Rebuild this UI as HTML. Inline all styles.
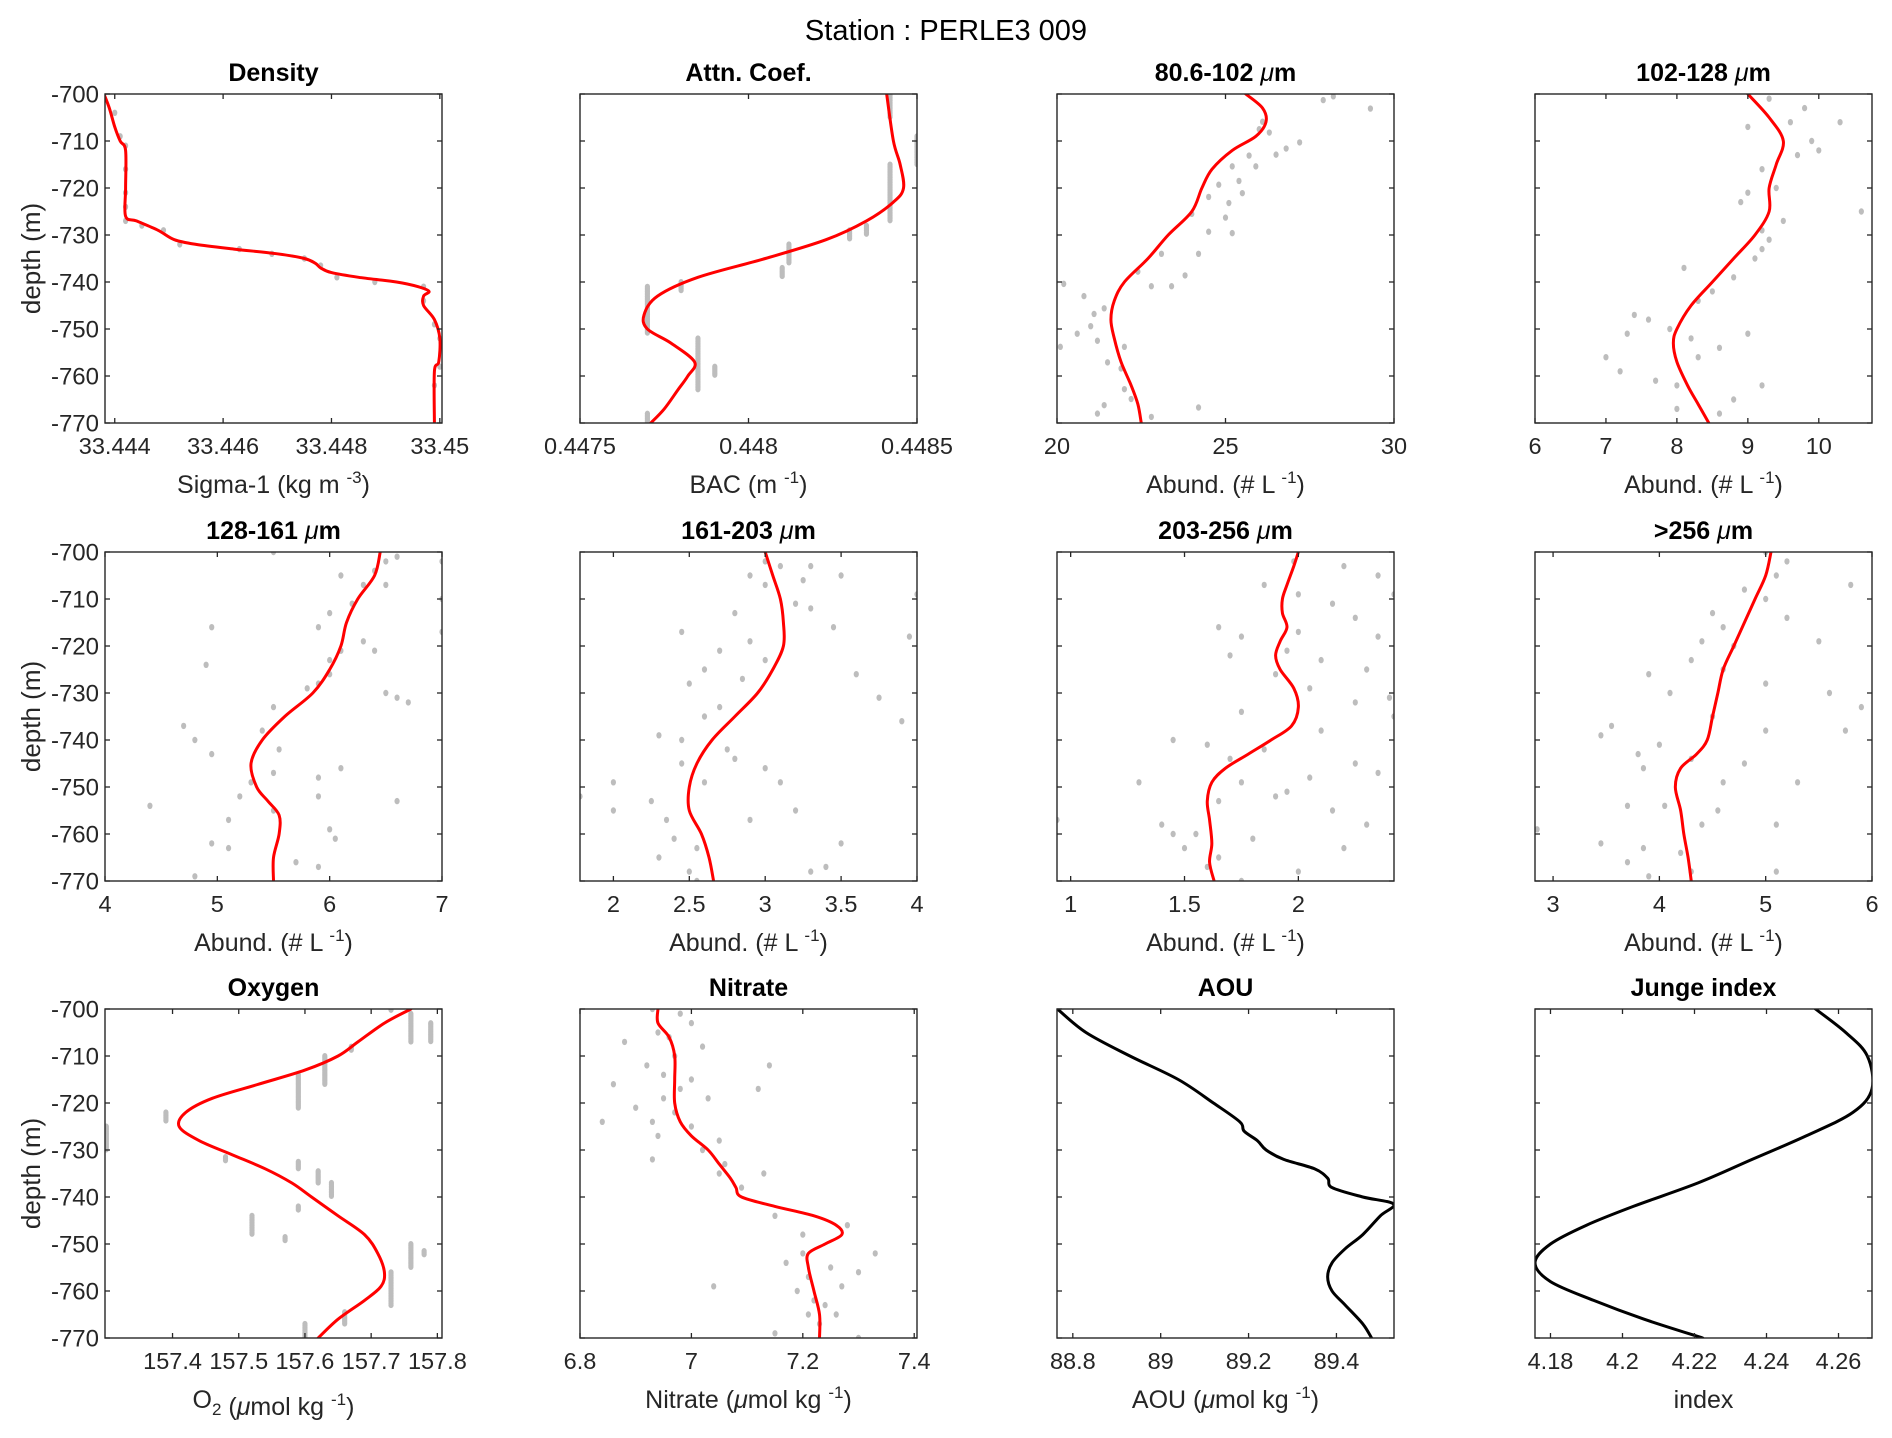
<!DOCTYPE html>
<html><head><meta charset="utf-8"><title>Station : PERLE3 009</title>
<style>
html,body{margin:0;padding:0;background:#fff;}
svg{display:block;font-family:"Liberation Sans",Arial,sans-serif;}
</style></head>
<body>
<svg id="fig" width="1892" height="1438" viewBox="0 0 1892 1438" xmlns="http://www.w3.org/2000/svg">
<rect x="0" y="0" width="1892" height="1438" fill="#fff"/>
<text x="946" y="40" text-anchor="middle" font-size="29" fill="#000">Station : PERLE3 009</text>
</svg>
<script>
// ---------- DATA ----------
const depthTicks = [-700,-710,-720,-730,-740,-750,-760,-770];

const densityCurve = [[-700,33.4438],[-703,33.4439],[-707,33.4440],[-710,33.4441],[-712,33.4442],[-720,33.4442],[-726,33.4442],[-727,33.4444],[-729,33.4448],[-731,33.4451],[-732,33.4455],[-733,33.4462],[-734,33.4470],[-735,33.4475],[-736,33.4477],[-737,33.4478],[-738,33.4480],[-739,33.4485],[-740,33.4492],[-741,33.4496],[-742,33.4498],[-743,33.4497],[-745,33.4497],[-748,33.4499],[-752,33.45],[-757,33.44998],[-759,33.4499],[-770,33.4499]];
const densityPoints = [[33.4438,-700],[33.4440,-704],[33.4441,-709],[33.4442,-711],[33.4442,-716],[33.4442,-721],[33.4442,-724],[33.4442,-727],[33.4445,-728],[33.4449,-729],[33.4452,-732],[33.4463,-733],[33.4469,-734],[33.4475,-735],[33.4478,-736.5],[33.4481,-739],[33.4488,-740],[33.4497,-741],[33.4497,-744],[33.4499,-749],[33.4500,-752],[33.4500,-758],[33.4499,-762]];
const densityTicks = [33.444,33.446,33.448,33.45];

const bacCurve = [[-700,0.44841],[-710,0.44843],[-715,0.44845],[-720,0.44846],[-723,0.44843],[-727,0.44835],[-731,0.44823],[-735,0.44805],[-739,0.44785],[-743,0.44773],[-747,0.44769],[-750,0.44770],[-753,0.44777],[-757,0.44784],[-760,0.44782],[-763,0.44779],[-767,0.44775],[-770,0.44771]];
const bacStreaks = [[0.44842,-700,-705],[0.44842,-715,-727],[0.4485,-709,-715],[0.44835,-728,-730],[0.4483,-729,-731],[0.44812,-732,-736],[0.4481,-737,-739],[0.4478,-740,-742],[0.4477,-741,-751],[0.44785,-752,-763],[0.4479,-758,-760],[0.4477,-768,-770]];
const bacTicks = [0.4475,0.448,0.4485];

const s1Curve = [[-700,25.6],[-703,26.1],[-706,26.2],[-709,25.9],[-712,25.2],[-716,24.6],[-720,24.3],[-725,24.0],[-730,23.3],[-735,22.7],[-740,22.0],[-744,21.7],[-748,21.6],[-752,21.7],[-757,21.9],[-762,22.2],[-766,22.4],[-770,22.5]];
const s1Points = [[27.9,-701.3],[29.3,-703.1],[26.1,-705.9],[26.0,-707.5],[26.3,-708.2],[26.8,-711.6],[26.5,-712.9],[25.2,-715.4],[25.7,-713.1],[25.4,-718.5],[24.8,-719.3],[24.5,-721.9],[25.5,-721.1],[25.1,-723.2],[25.0,-726.3],[24.5,-729.3],[25.2,-729.6],[24.2,-734.0],[23.8,-738.6],[23.1,-734.0],[22.8,-740.9],[20.2,-740.4],[20.8,-743.0],[21.1,-746.8],[21.0,-749.4],[21.2,-752.5],[20.6,-751.0],[20.1,-753.8],[21.5,-757.1],[21.9,-758.4],[22.0,-762.8],[22.2,-764.9],[21.4,-766.2],[24.2,-766.7],[21.2,-768.0],[22.8,-768.7],[22.0,-753.8],[21.4,-745.6],[22.4,-737.8],[23.4,-740.9],[24.0,-725.5],[28.2,-700.5],[27.2,-710.3],[25.9,-715.4]];
const s1Ticks = [20,25,30];

const s2Curve = [[-700,9.0],[-705,9.3],[-710,9.5],[-715,9.4],[-720,9.3],[-725,9.3],[-730,9.1],[-735,8.8],[-740,8.5],[-745,8.2],[-750,8.0],[-753,7.95],[-757,8.0],[-762,8.15],[-766,8.3],[-770,8.45]];
const s2Points = [[9.3,-701],[9.8,-703],[9.6,-706],[10.3,-706],[9.0,-707],[9.9,-710],[10.0,-712],[9.7,-713],[9.2,-716],[9.4,-720],[9.0,-721],[8.9,-723],[10.6,-725],[9.5,-727],[9.2,-729],[9.3,-731],[9.2,-733],[9.1,-735],[8.1,-737],[8.8,-739],[8.5,-742],[8.3,-744],[7.4,-747],[7.6,-748],[7.3,-751],[7.9,-750],[9.0,-751],[8.2,-752],[8.6,-754],[7.0,-756],[8.3,-756],[7.2,-759],[7.7,-761],[8.0,-762],[9.2,-762],[8.8,-765],[8.0,-767],[8.6,-768]];
const s2Ticks = [6,7,8,9,10];

const s3Curve = [[-700,6.45],[-705,6.4],[-710,6.25],[-715,6.15],[-720,6.1],[-725,6.0],[-730,5.85],[-735,5.6],[-740,5.4],[-745,5.3],[-750,5.35],[-753,5.45],[-756,5.55],[-760,5.55],[-765,5.5],[-770,5.5]];
const s3Points = [[5.5,-700],[6.6,-701],[6.5,-702],[7.0,-702],[6.4,-704],[6.1,-705],[6.5,-707],[6.3,-707],[7.0,-710],[6.2,-711],[6.0,-713],[5.9,-716],[4.95,-716],[7.0,-717],[6.3,-719],[6.1,-721],[6.4,-721],[4.9,-724],[6.0,-723],[6.0,-726],[5.9,-728],[5.8,-729],[6.5,-730],[6.7,-732],[6.6,-731],[5.5,-733],[5.4,-738],[4.7,-737],[4.8,-740],[4.95,-743],[5.55,-742],[5.5,-747],[6.1,-746],[5.9,-748],[5.3,-749],[4.4,-754],[5.2,-752],[5.9,-752],[6.6,-753],[5.5,-755],[5.1,-757],[6.0,-759],[4.95,-762],[5.1,-763],[6.05,-761],[5.7,-766],[5.9,-767],[4.8,-769]];
const s3Ticks = [4,5,6,7];

const s4Curve = [[-700,3.0],[-705,3.05],[-710,3.1],[-715,3.12],[-720,3.12],[-725,3.05],[-730,2.95],[-735,2.8],[-740,2.65],[-745,2.55],[-750,2.5],[-755,2.5],[-760,2.58],[-765,2.63],[-770,2.66]];
const s4Points = [[3.0,-702],[3.1,-703],[3.3,-703],[3.5,-705],[2.9,-705],[3.0,-707],[3.25,-706],[4.0,-709],[3.2,-711],[3.3,-712],[2.8,-713],[2.45,-717],[3.45,-716],[3.95,-718],[2.9,-719],[2.7,-721],[3.0,-723],[2.6,-725],[3.6,-726],[2.85,-727],[2.5,-728],[3.75,-731],[2.7,-733],[2.6,-735],[3.9,-736],[2.3,-739],[2.45,-740],[2.75,-742],[2.8,-744],[3.0,-746],[2.45,-745],[2.0,-749],[2.6,-749],[3.1,-749],[1.78,-752],[2.25,-753],[2.0,-755],[3.2,-755],[2.9,-757],[2.35,-757],[2.4,-761],[2.55,-763],[3.5,-762],[2.3,-765],[3.4,-767],[2.5,-768],[3.3,-768],[2.55,-770]];
const s4Ticks = [2,2.5,3,3.5,4];

const s5Curve = [[-700,2.0],[-703,1.98],[-707,1.95],[-710,1.93],[-713,1.93],[-716,1.95],[-719,1.92],[-722,1.9],[-725,1.92],[-729,1.98],[-733,2.0],[-737,1.97],[-740,1.88],[-743,1.78],[-746,1.68],[-749,1.62],[-753,1.6],[-757,1.61],[-762,1.62],[-766,1.61],[-770,1.63]];
const s5Points = [[1.98,-702],[2.2,-703],[2.35,-705],[1.85,-707],[2.0,-709],[2.42,-709],[2.15,-711],[2.25,-714],[1.65,-716],[2.0,-717],[1.75,-718],[2.35,-718],[1.95,-721],[1.7,-722],[2.1,-723],[2.3,-725],[1.9,-726],[2.05,-729],[2.4,-731],[2.25,-732],[1.75,-734],[2.42,-735],[2.1,-738],[1.45,-740],[1.6,-741],[1.85,-742],[1.7,-744],[2.25,-745],[1.3,-749],[1.75,-749],[2.05,-748],[1.95,-751],[1.65,-753],[1.9,-752],[0.94,-757],[1.4,-758],[1.55,-760],[2.3,-758],[1.8,-761],[1.5,-763],[2.2,-763],[1.65,-765],[1.6,-767],[2.0,-768],[1.75,-770],[1.45,-760],[2.15,-755],[2.35,-747]];
const s5Ticks = [1,1.5,2];

const s6Curve = [[-700,5.05],[-705,5.0],[-710,4.9],[-715,4.8],[-720,4.7],[-725,4.6],[-730,4.55],[-735,4.5],[-740,4.45],[-743,4.35],[-746,4.2],[-750,4.15],[-755,4.2],[-760,4.23],[-765,4.27],[-770,4.3]];
const s6Points = [[5.0,-700],[5.2,-702],[5.1,-705],[5.8,-707],[4.8,-708],[5.0,-710],[4.5,-713],[5.2,-714],[4.6,-716],[4.4,-719],[4.7,-720],[5.5,-719],[4.3,-723],[4.6,-725],[3.9,-726],[5.0,-728],[4.1,-730],[5.6,-730],[5.9,-733],[4.5,-735],[3.55,-737],[3.45,-739],[5.0,-738],[5.75,-738],[4.0,-741],[3.8,-743],[4.3,-744],[3.85,-746],[4.8,-745],[4.6,-749],[5.3,-749],[3.7,-754],[4.05,-754],[4.55,-755],[2.85,-759],[4.4,-758],[5.1,-758],[3.45,-762],[3.85,-763],[4.2,-764],[3.7,-766],[5.1,-768],[3.9,-769],[4.3,-768]];
const s6Ticks = [3,4,5,6];

const oxyCurve = [[-700,157.76],[-703,157.72],[-707,157.68],[-710,157.65],[-713,157.60],[-716,157.53],[-719,157.46],[-722,157.42],[-725,157.41],[-728,157.44],[-731,157.49],[-734,157.54],[-737,157.58],[-740,157.61],[-744,157.65],[-748,157.69],[-752,157.71],[-756,157.72],[-759,157.715],[-762,157.69],[-766,157.65],[-770,157.62]];
const oxyStreaks = [[157.30,-725,-730],[157.39,-722,-724],[157.48,-731.5,-732.5],[157.52,-744,-748],[157.57,-748.5,-749.5],[157.59,-714,-721],[157.59,-732.5,-734],[157.59,-742,-743],[157.63,-710,-716],[157.62,-734.5,-737],[157.64,-737,-740],[157.67,-708,-709],[157.73,-699.5,-700.5],[157.76,-701,-707],[157.79,-703,-707],[157.76,-750,-755],[157.78,-751.5,-752.5],[157.73,-756,-763],[157.66,-764.5,-767],[157.60,-767,-770]];
const oxyTicks = [157.4,157.5,157.6,157.7,157.8];

const nitCurve = [[-700,6.94],[-703,6.94],[-706,6.96],[-710,6.97],[-715,6.97],[-720,6.97],[-724,6.98],[-727,7.0],[-730,7.03],[-733,7.05],[-736,7.07],[-738,7.08],[-740,7.09],[-742,7.15],[-744,7.22],[-746,7.26],[-748,7.27],[-750,7.24],[-752,7.21],[-755,7.21],[-760,7.22],[-765,7.23],[-770,7.23]];
const nitPoints = [[6.93,-700],[6.98,-701],[7.0,-703],[6.94,-705],[6.96,-706],[6.88,-707],[7.02,-708],[6.97,-710],[6.92,-712],[7.14,-712],[6.95,-714],[7.0,-715],[6.86,-716],[6.98,-717],[7.12,-717],[6.95,-719],[7.03,-719],[6.9,-721],[6.97,-722],[6.84,-724],[6.93,-724],[7.0,-725],[6.94,-727],[7.05,-728],[7.02,-730],[6.93,-732],[7.06,-733],[7.05,-735],[7.13,-735],[7.09,-738],[7.15,-744],[7.2,-748],[7.28,-746],[7.33,-752],[7.17,-754],[7.2,-752],[7.25,-755],[7.3,-756],[7.21,-757],[7.04,-759],[7.19,-760],[7.27,-759],[7.22,-762],[7.24,-763],[7.21,-765],[7.26,-765],[7.23,-767],[7.15,-769],[7.3,-770]];
const nitTicks = [6.8,7,7.2,7.4];

const aouCurve = [[-700,88.765],[-705,88.83],[-710,88.93],[-715,89.04],[-720,89.12],[-724,89.18],[-726,89.19],[-728,89.22],[-730,89.24],[-732,89.28],[-734,89.35],[-736,89.38],[-738,89.39],[-740,89.46],[-741.5,89.53],[-744,89.50],[-748,89.46],[-751,89.42],[-754,89.39],[-757,89.38],[-760,89.39],[-763,89.42],[-767,89.46],[-770,89.48]];
const aouTicks = [88.8,89,89.2,89.4];

const jungeCurve = [[-700,4.2536],[-705,4.262],[-710,4.268],[-717,4.2693],[-722,4.264],[-727,4.251],[-732,4.236],[-737,4.221],[-742,4.203],[-746,4.190],[-750,4.180],[-754,4.1757],[-758,4.180],[-762,4.192],[-766,4.206],[-770,4.2223]];
const jungeTicks = [4.18,4.2,4.22,4.24,4.26];

// ---------- LAYOUT ----------
const colX = [105,580,1057,1535];
const rowY = [94,552,1009];
const PW = 337, PH = 329;
const SVGNS = "http://www.w3.org/2000/svg";
const fig = document.getElementById('fig');

function el(tag, attrs, parent){
  const e = document.createElementNS(SVGNS, tag);
  for (const k in attrs) e.setAttribute(k, attrs[k]);
  (parent||fig).appendChild(e);
  return e;
}
function fmt(v){ return String(parseFloat(v.toPrecision(8))); }

function smoothPath(pts){
  if (pts.length < 2) return '';
  let d = 'M' + pts[0][0].toFixed(2) + ',' + pts[0][1].toFixed(2);
  for (let i = 0; i < pts.length - 1; i++){
    const p0 = pts[Math.max(0,i-1)], p1 = pts[i], p2 = pts[i+1], p3 = pts[Math.min(pts.length-1,i+2)];
    const c1x = p1[0] + (p2[0]-p0[0])/6, c1y = p1[1] + (p2[1]-p0[1])/6;
    const c2x = p2[0] - (p3[0]-p1[0])/6, c2y = p2[1] - (p3[1]-p1[1])/6;
    d += ' C' + c1x.toFixed(2)+','+c1y.toFixed(2)+' '+c2x.toFixed(2)+','+c2y.toFixed(2)+' '+p2[0].toFixed(2)+','+p2[1].toFixed(2);
  }
  return d;
}

let clipId = 0;
function panel(cfg){
  const x0 = colX[cfg.col], y0 = rowY[cfg.row];
  const g = el('g', {});
  
  
  const xs = v => x0 + (v - cfg.xlim[0]) / (cfg.xlim[1] - cfg.xlim[0]) * PW;
  const ys = d => y0 + (-700 - d) / 70 * PH;

  const cid = 'clip' + (clipId++);
  const cp = el('clipPath', {id: cid}, g);
  el('rect', {x: x0, y: y0, width: PW, height: PH}, cp);
  const plot = el('g', {'clip-path': 'url(#' + cid + ')'}, g);
  
  

  if (cfg.points){
    cfg.points.forEach(p => {
      const c = el('ellipse', {cx: xs(p[0]), cy: ys(p[1]), rx: 2.6, ry: 3.2, fill: '#bdbdbd'}, plot);
      
      
    });
  }
  if (cfg.streaks){
    cfg.streaks.forEach(s => {
      for (let d = s[1]; d >= s[2] - 0.001; d -= 0.35){
        const c = el('ellipse', {cx: xs(s[0]), cy: ys(d), rx: 2.6, ry: 3.0, fill: '#bdbdbd'}, plot);
        
        
      }
    });
  }
  const pix = cfg.curve.map(p => [xs(p[1]), ys(p[0])]);
  const path = el('path', {d: smoothPath(pix), fill: 'none', stroke: cfg.color, 'stroke-width': 3, 'stroke-linejoin': 'round', 'stroke-linecap': 'round'}, plot);
  
  

  const box = el('rect', {x: x0, y: y0, width: PW, height: PH, fill: 'none', stroke: '#262626', 'stroke-width': 1.4}, g);
  
  

  depthTicks.forEach(d => {
    const y = ys(d);
    el('line', {x1: x0, x2: x0 + 5, y1: y, y2: y, stroke: '#262626', 'stroke-width': 1.3}, g);
    el('line', {x1: x0 + PW, x2: x0 + PW - 5, y1: y, y2: y, stroke: '#262626', 'stroke-width': 1.3}, g);
    if (cfg.col === 0){
      const t = el('text', {x: x0 - 6, y: y + 8.5, 'text-anchor': 'end', 'font-size': 24, fill: '#262626'}, g);
      t.textContent = String(d);
      
      
    }
  });
  cfg.ticks.forEach(v => {
    const x = xs(v);
    el('line', {x1: x, x2: x, y1: y0 + PH, y2: y0 + PH - 5, stroke: '#262626', 'stroke-width': 1.3}, g);
    el('line', {x1: x, x2: x, y1: y0, y2: y0 + 5, stroke: '#262626', 'stroke-width': 1.3}, g);
    const t = el('text', {x: x, y: y0 + PH + 31, 'text-anchor': 'middle', 'font-size': 23.5, fill: '#262626'}, g);
    t.textContent = fmt(v);
    
    
  });
  const tt = el('text', {x: x0 + PW/2, y: y0 - 13, 'text-anchor': 'middle', 'font-size': 25, 'font-weight': 'bold', fill: '#000'}, g);
  tt.innerHTML = cfg.title;
  
  
  const xl = el('text', {x: x0 + PW/2, y: y0 + PH + 70, 'text-anchor': 'middle', 'font-size': 25, fill: '#262626'}, g);
  xl.innerHTML = cfg.xlabel;
  
  
  if (cfg.col === 0){
    const cy = y0 + PH/2;
    const yl = el('text', {x: 0, y: 0, transform: 'translate(40,' + cy + ') rotate(-90)', 'text-anchor': 'middle', 'font-size': 26, fill: '#262626'}, g);
    yl.textContent = 'depth (m)';
    
    
  }
}

const sup = s => '<tspan dy="-10" font-size="17">' + s + '</tspan><tspan dy="10">)</tspan>';
const abund = 'Abund. (# L ' + sup('-1');
const umol = ' (<tspan font-style="italic">μ</tspan>mol kg ' + sup('-1');
const um = ' <tspan font-style="italic" font-weight="normal">μ</tspan>m';
const RED = '#ff0000', BLACK = '#000000';

panel({name:'density', col:0,row:0, xlim:[33.44382,33.45004], ticks:densityTicks, curve:densityCurve, points:densityPoints, color:RED, title:'Density', xlabel:'Sigma-1 (kg m ' + sup('-3')});
panel({name:'attenuation', col:1,row:0, xlim:[0.4475,0.4485], ticks:bacTicks, curve:bacCurve, streaks:bacStreaks, color:RED, title:'Attn. Coef.', xlabel:'BAC (m ' + sup('-1')});
panel({name:'size-80-102', col:2,row:0, xlim:[20,30], ticks:s1Ticks, curve:s1Curve, points:s1Points, color:RED, title:'80.6-102' + um, xlabel:abund});
panel({name:'size-102-128', col:3,row:0, xlim:[6,10.75], ticks:s2Ticks, curve:s2Curve, points:s2Points, color:RED, title:'102-128' + um, xlabel:abund});
panel({name:'size-128-161', col:0,row:1, xlim:[4,7], ticks:s3Ticks, curve:s3Curve, points:s3Points, color:RED, title:'128-161' + um, xlabel:abund});
panel({name:'size-161-203', col:1,row:1, xlim:[1.78,4.0], ticks:s4Ticks, curve:s4Curve, points:s4Points, color:RED, title:'161-203' + um, xlabel:abund});
panel({name:'size-203-256', col:2,row:1, xlim:[0.94,2.42], ticks:s5Ticks, curve:s5Curve, points:s5Points, color:RED, title:'203-256' + um, xlabel:abund});
panel({name:'size-over-256', col:3,row:1, xlim:[2.83,6], ticks:s6Ticks, curve:s6Curve, points:s6Points, color:RED, title:'&gt;256' + um, xlabel:abund});
panel({name:'oxygen', col:0,row:2, xlim:[157.298,157.807], ticks:oxyTicks, curve:oxyCurve, streaks:oxyStreaks, color:RED, title:'Oxygen', xlabel:'O<tspan dy="7" font-size="17">2</tspan><tspan dy="-7"></tspan>' + umol});
panel({name:'nitrate', col:1,row:2, xlim:[6.8,7.405], ticks:nitTicks, curve:nitCurve, points:nitPoints, color:RED, title:'Nitrate', xlabel:'Nitrate' + umol});
panel({name:'aou', col:2,row:2, xlim:[88.764,89.531], ticks:aouTicks, curve:aouCurve, color:BLACK, title:'AOU', xlabel:'AOU' + umol});
panel({name:'junge-index', col:3,row:2, xlim:[4.1757,4.2693], ticks:jungeTicks, curve:jungeCurve, color:BLACK, title:'Junge index', xlabel:'index'});
</script>
</body></html>
